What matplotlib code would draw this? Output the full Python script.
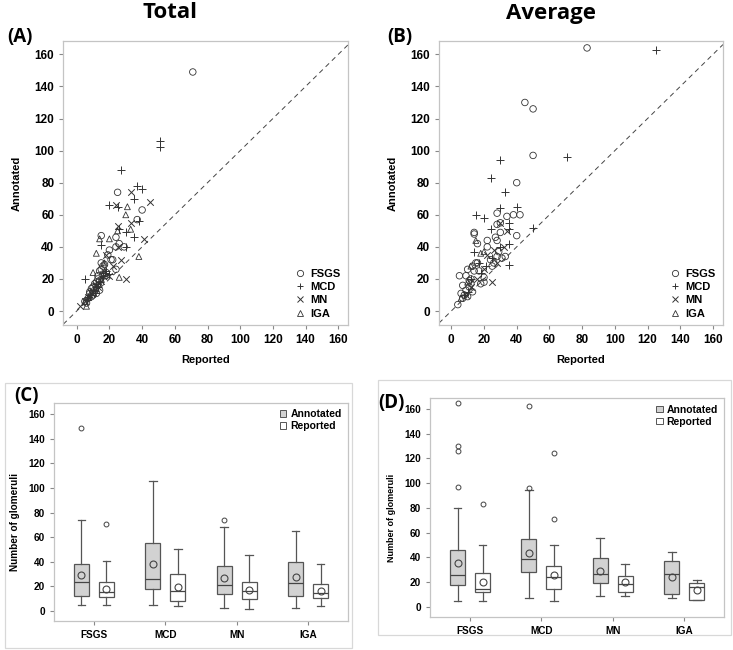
import numpy as np
import matplotlib
matplotlib.use("Agg")
import matplotlib.pyplot as plt
from matplotlib.patches import Rectangle, Patch
from matplotlib.lines import Line2D

plt.rcParams['font.family'] = ['Liberation Sans', 'DejaVu Sans']

# ---------------- data ----------------
groups = ["FSGS", "MCD", "MN", "IGA"]

# Panel A (Total): reported (x) vs annotated (y)
fsgs_a_rep = [71, 25, 40, 37, 15, 24, 29, 20, 21, 22, 24, 15, 14, 16, 13, 17, 18, 14, 12, 10,
              9, 11, 8, 7, 6, 12, 15, 13, 16, 19, 10, 5, 8, 14, 11, 17, 13, 9, 24, 26]
fsgs_a_ann = [149, 74, 63, 57, 47, 46, 40, 38, 32, 32, 26, 30, 25, 28, 20, 22, 24, 13, 11, 10,
              9, 13, 11, 8, 5, 18, 26, 16, 23, 35, 15, 6, 12, 19, 17, 29, 22, 14, 40, 42]
mcd_a_rep = [51, 51, 27, 37, 40, 20, 25, 35, 26, 30, 35, 15, 5, 38, 30, 17, 12, 16, 10, 8,
             14, 18, 7, 13, 20, 11, 6]
mcd_a_ann = [106, 102, 88, 78, 76, 66, 65, 70, 51, 49, 46, 41, 20, 56, 40, 24, 17, 22, 13, 10,
             18, 25, 9, 15, 23, 11, 7]
mn_a_rep = [33, 45, 24, 25, 33, 41, 30, 25, 2, 20, 18, 13, 10, 16, 22, 7, 12, 27, 15, 9, 5]
mn_a_ann = [74, 68, 66, 53, 55, 45, 20, 40, 3, 22, 35, 15, 12, 22, 28, 9, 16, 32, 19, 11, 6]
iga_a_rep = [31, 30, 33, 20, 14, 12, 38, 26, 25, 6, 10, 17, 12, 8, 15, 5]
iga_a_ann = [65, 60, 51, 45, 45, 36, 34, 21, 50, 3, 24, 30, 14, 10, 20, 6]

# Panel B (Average)
fsgs_b_rep = [83, 45, 50, 50, 40, 28, 38, 42, 34, 40, 30, 28, 14, 14, 16, 22, 22, 27, 28, 30,
              24, 28, 33, 29, 20, 20, 5, 4, 7, 8, 9, 10, 11, 12, 13, 15, 17, 18, 10, 12,
              9, 14, 26, 31, 7, 11, 13, 16, 25, 6]
fsgs_b_ann = [164, 130, 126, 97, 80, 61, 60, 60, 59, 47, 55, 54, 49, 48, 42, 44, 40, 46, 44, 49,
              32, 34, 34, 37, 18, 21, 22, 4, 8, 10, 13, 26, 15, 20, 12, 30, 25, 17, 9, 17,
              22, 25, 30, 33, 16, 19, 28, 30, 28, 11]
mcd_b_rep = [125, 71, 30, 24, 33, 40, 30, 15, 20, 24, 35, 35, 50, 35, 35, 14, 30, 21, 12, 10,
             17, 25, 8, 18]
mcd_b_ann = [163, 96, 94, 83, 74, 65, 64, 60, 58, 51, 55, 51, 52, 42, 29, 37, 40, 28, 20, 12,
             30, 33, 10, 24]
mn_b_rep = [34, 30, 25, 28, 32, 20, 12, 16, 9, 22, 26]
mn_b_ann = [50, 55, 18, 30, 40, 26, 15, 20, 10, 35, 38]
iga_b_rep = [15, 18, 12, 6, 20, 10]
iga_b_ann = [44, 36, 28, 8, 37, 18]

# Panel C (Total) box summaries: [FSGS, MCD, MN, IGA]
c_ann_med = [23.3, 25.8, 21.2, 22.5]
c_ann_q1 = [12.5, 17.6, 13.8, 12.5]
c_ann_q3 = [38.0, 55.0, 36.9, 39.9]
c_ann_lo = [4.8, 4.8, 2.7, 2.7]
c_ann_hi = [74.0, 106.0, 68.0, 65.0]
c_ann_mean = [29.6, 38.3, 26.6, 27.4]
c_ann_out = [[149], [], [74], []]
c_rep_med = [15.2, 16.0, 16.3, 14.9]
c_rep_q1 = [11.1, 7.9, 9.5, 10.8]
c_rep_q3 = [23.9, 29.8, 23.9, 22.0]
c_rep_lo = [4.8, 3.8, 1.4, 3.8]
c_rep_hi = [40.4, 50.8, 45.3, 38.0]
c_rep_mean = [18.3, 19.8, 17.1, 16.5]
c_rep_out = [[70.5], [], [], []]

# Panel D (Average) box summaries
d_ann_med = [25.4, 38.4, 26.2, 26.2]
d_ann_q1 = [17.9, 27.9, 18.9, 10.0]
d_ann_q3 = [45.6, 55.1, 39.2, 37.1]
d_ann_lo = [4.3, 7.1, 8.4, 7.1]
d_ann_hi = [79.6, 94.2, 55.3, 44.3]
d_ann_mean = [35.1, 43.3, 28.9, 24.3]
d_ann_out = [[164.5, 130, 126, 97], [162.5, 95.8], [], []]
d_rep_med = [14.3, 24.0, 18.4, 16.2]
d_rep_q1 = [11.6, 14.1, 12.2, 5.2]
d_rep_q3 = [27.0, 32.9, 25.2, 18.9]
d_rep_lo = [4.3, 4.3, 8.4, 5.2]
d_rep_hi = [50.2, 50.2, 34.3, 21.3]
d_rep_mean = [20.2, 25.6, 19.8, 13.8]
d_rep_out = [[83.2], [124.7, 71], [], []]

ticks = [0, 20, 40, 60, 80, 100, 120, 140, 160]

# ---------------- figure ----------------
W, H = 733, 650
fig = plt.figure(figsize=(W / 100, H / 100), dpi=100)


def rect(l, t, r, b):
    return [l / W, 1 - b / H, (r - l) / W, (b - t) / H]


SPINE = '#c4c4c4'
INK = '#333333'


def style_axes(ax, tick_size):
    for s in ax.spines.values():
        s.set_color(SPINE)
        s.set_linewidth(0.9)
    ax.tick_params(axis='both', colors='#888888', length=3, width=0.8,
                   labelcolor='black', labelsize=tick_size)
    for lab in ax.get_xticklabels() + ax.get_yticklabels():
        lab.set_fontweight('bold')


def scatter_panel(box, sets, xlim):
    ax = fig.add_axes(rect(*box))
    markers = ['o', '+', 'x', '^']
    sizes = [22, 30, 22, 18]
    handles = []
    for (xs, ys), m, s, name in zip(sets, markers, sizes, groups):
        if m in ('o', '^'):
            ax.scatter(xs, ys, marker=m, s=s, facecolors='none', edgecolors=INK,
                       linewidths=0.6, zorder=3)
            h = Line2D([], [], marker=m, ls='none', mfc='none', mec=INK, mew=0.6,
                       ms=4.5 if m == 'o' else 4)
        else:
            ax.scatter(xs, ys, marker=m, s=s, color=INK, linewidths=0.7, zorder=3)
            h = Line2D([], [], marker=m, ls='none', color=INK, mew=0.7, ms=5 if m == '+' else 4.5)
        handles.append(h)
    ax.axline((0, 0), slope=1, color='#444444', lw=0.7, ls=(0, (5, 4)), zorder=2)
    ax.set_xlim(*xlim)
    ax.set_ylim(-8.7, 168.5)
    ax.set_xticks(ticks)
    ax.set_yticks(ticks)
    style_axes(ax, 8.5)
    ax.legend(handles, groups, loc='lower right', frameon=False,
              prop={'weight': 'bold', 'size': 8}, handlelength=0.8,
              handletextpad=0.5, labelspacing=0.3, borderaxespad=0.3,
              bbox_to_anchor=(1.0, -0.005))
    return ax


axA = scatter_panel((63.3, 40.7, 348.3, 325),
                    [(fsgs_a_rep, fsgs_a_ann), (mcd_a_rep, mcd_a_ann),
                     (mn_a_rep, mn_a_ann), (iga_a_rep, iga_a_ann)], (-8.2, 166.1))
axB = scatter_panel((439, 40.7, 723, 325),
                    [(fsgs_b_rep, fsgs_b_ann), (mcd_b_rep, mcd_b_ann),
                     (mn_b_rep, mn_b_ann), (iga_b_rep, iga_b_ann)], (-7.5, 166.1))


def stats(med, q1, q3, lo, hi, mean, out):
    return [dict(med=med[i], q1=q1[i], q3=q3[i], whislo=lo[i], whishi=hi[i],
                 mean=mean[i], fliers=out[i], label=groups[i]) for i in range(4)]


def box_panel(box, ann, rep, fs):
    ax = fig.add_axes(rect(*box))
    pos = np.arange(4)
    common = dict(widths=0.21, showmeans=True, patch_artist=True, manage_ticks=False,
                  whiskerprops=dict(color='#555555', lw=0.9),
                  capprops=dict(color='#555555', lw=0.9),
                  medianprops=dict(color='#444444', lw=0.9),
                  meanprops=dict(marker='o', mfc='none', mec='#444444', ms=5, mew=0.8),
                  flierprops=dict(marker='o', mfc='none', mec='#444444', ms=3.5, mew=0.7),
                  capwidths=0.11)
    ax.bxp(ann, positions=pos - 0.175,
           boxprops=dict(facecolor='#d2d2d2', edgecolor='#555555', lw=0.9), **common)
    ax.bxp(rep, positions=pos + 0.175,
           boxprops=dict(facecolor='white', edgecolor='#555555', lw=0.9), **common)
    ax.set_xlim(-0.56, 3.56)
    ax.set_xticks(pos)
    ax.set_xticklabels(groups)
    ax.set_yticks(ticks)
    style_axes(ax, fs)
    ax.tick_params(axis='x', length=3, labelsize=fs)
    handles = [Patch(facecolor='#d2d2d2', edgecolor='#555555', lw=0.7),
               Patch(facecolor='white', edgecolor='#555555', lw=0.7)]
    ax.legend(handles, ['Annotated', 'Reported'], loc='upper right', frameon=False,
              prop={'weight': 'bold', 'size': 7.5}, handlelength=0.6, handleheight=0.6,
              handletextpad=0.4, labelspacing=0.2, borderaxespad=0.2)
    return ax


axC = box_panel((54, 403, 348, 621),
                stats(c_ann_med, c_ann_q1, c_ann_q3, c_ann_lo, c_ann_hi, c_ann_mean, c_ann_out),
                stats(c_rep_med, c_rep_q1, c_rep_q3, c_rep_lo, c_rep_hi, c_rep_mean, c_rep_out),
                7.2)
axC.set_ylim(-8.1, 169.2)
axD = box_panel((430, 398.3, 724.3, 616.5),
                stats(d_ann_med, d_ann_q1, d_ann_q3, d_ann_lo, d_ann_hi, d_ann_mean, d_ann_out),
                stats(d_rep_med, d_rep_q1, d_rep_q3, d_rep_lo, d_rep_hi, d_rep_mean, d_rep_out),
                7.2)
axD.set_ylim(-7.9, 168.7)

# outer frames of bottom panels
for (l, t, r, b) in [(5, 383, 352, 648), (378, 380, 731, 635)]:
    fig.add_artist(Rectangle((l / W, 1 - b / H), (r - l) / W, (b - t) / H,
                             transform=fig.transFigure, fill=False,
                             edgecolor='#d8d8d8', lw=0.9))


def ftext(x, y, s, **kw):
    fig.text(x / W, 1 - y / H, s, **kw)


title_font = ['Open Sans', 'DejaVu Sans']
ftext(170, 13, 'Total', ha='center', va='center', fontsize=16, fontweight='bold', family=title_font)
ftext(551, 13, 'Average', ha='center', va='center', fontsize=16, fontweight='bold', family=title_font)
for x, y, s in [(7, 37, '(A)'), (387, 37, '(B)'), (14, 396, '(C)'), (378, 403, '(D)')]:
    ftext(x, y, s, ha='left', va='center', fontsize=13.5, fontweight='bold', family=title_font)

ftext(17, 183, 'Annotated', rotation=90, ha='center', va='center', fontsize=8, fontweight='bold')
ftext(393, 183, 'Annotated', rotation=90, ha='center', va='center', fontsize=8, fontweight='bold')
ftext(206, 360, 'Reported', ha='center', va='center', fontsize=8, fontweight='bold')
ftext(581, 360, 'Reported', ha='center', va='center', fontsize=8, fontweight='bold')
ftext(15, 522, 'Number of glomeruli', rotation=90, ha='center', va='center', fontsize=7.2, fontweight='bold')
ftext(391, 518, 'Number of glomeruli', rotation=90, ha='center', va='center', fontsize=6.5, fontweight='bold')

fig.savefig('out.png', dpi=100)
